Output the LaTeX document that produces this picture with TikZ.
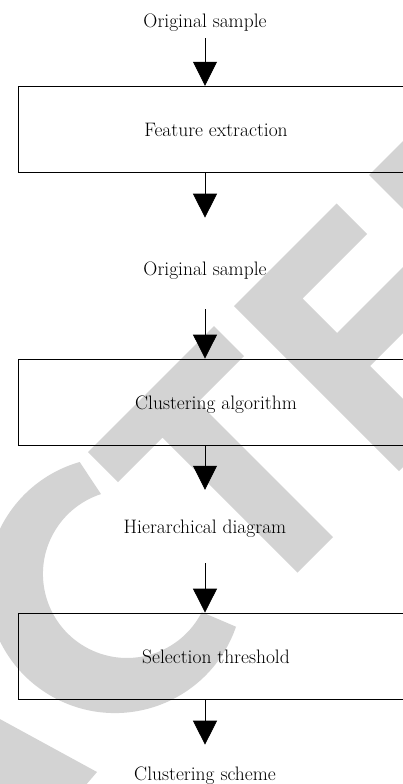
\documentclass[tikz,border=0pt]{standalone}
\usepackage{tikz}
\usetikzlibrary{arrows.meta}
\definecolor{stampgray}{RGB}{211,211,211}

\begin{document}
\begin{tikzpicture}[x=1pt,y=1pt]
\tikzstyle{every node}+=[inner sep=0pt, font=\fontsize{19.5}{23}\selectfont]
\tikzstyle{stage}=[draw, line width=0.8pt, minimum width=396pt, minimum height=86pt, text height=14pt, text depth=0pt]
\tikzstyle{caption}=[anchor=base]
\tikzstyle{flow}=[line width=0.8pt, -{Triangle[width=24pt,length=24pt]}]
\useasboundingbox (0,0) rectangle (403,-784);
% stamp letters behind the chart
\fill [stampgray] (79.7,-462) arc [start angle=106, end angle=341, radius=128]
  -- (201.8,-612.1) arc [start angle=333, end angle=108, radius=84] -- cycle;
\fill [stampgray] (88,-452) -- (214,-326) -- (244,-356) -- (198,-402) -- (333,-537)
  -- (297.5,-572.5) -- (162.5,-437.5) -- (118,-482) -- cycle;
\fill [stampgray] (234,-306) -- (336.5,-203.5) -- (367,-234) -- (302.5,-298.5) -- (337,-333)
  -- (405,-265) -- (438,-298) -- (370,-366) -- (404.5,-400.5) -- (469,-336)
  -- (501.5,-368.5) -- (399,-471) -- cycle;
\fill [stampgray] (369,-175) -- (422,-122) -- (447,-253) -- cycle;
\fill [stampgray] (-2,-718) -- (97,-772) -- (85,-786) -- (-2,-786) -- cycle;
% chart
\node [caption] (orig) at (205,-28) {Original sample};
\node [stage] (feat) at (216,-129.2) {Feature extraction};
\node [caption] (sample) at (205,-275) {Original sample};
\node [stage] (clust) at (216,-402) {Clustering algorithm};
\node [caption] (hier) at (205,-533) {Hierarchical diagram};
\node [stage] (thresh) at (216,-656) {Selection threshold};
\node [caption] (scheme) at (205,-780) {Clustering scheme};
\draw [flow, shorten <=6pt] (orig.south) -- (orig.south |- feat.north);
\draw [flow, shorten >=43.5pt] (feat.south -| sample.north) -- (sample.north);
\draw [flow, shorten <=30pt] (sample.south) -- (sample.south |- clust.north);
\draw [flow, shorten >=29.5pt] (clust.south -| hier.north) -- (hier.north);
\draw [flow, shorten <=26pt] (hier.south) -- (hier.south |- thresh.north);
\draw [flow, shorten >=21.5pt] (thresh.south -| scheme.north) -- (scheme.north);
\end{tikzpicture}
\end{document}
